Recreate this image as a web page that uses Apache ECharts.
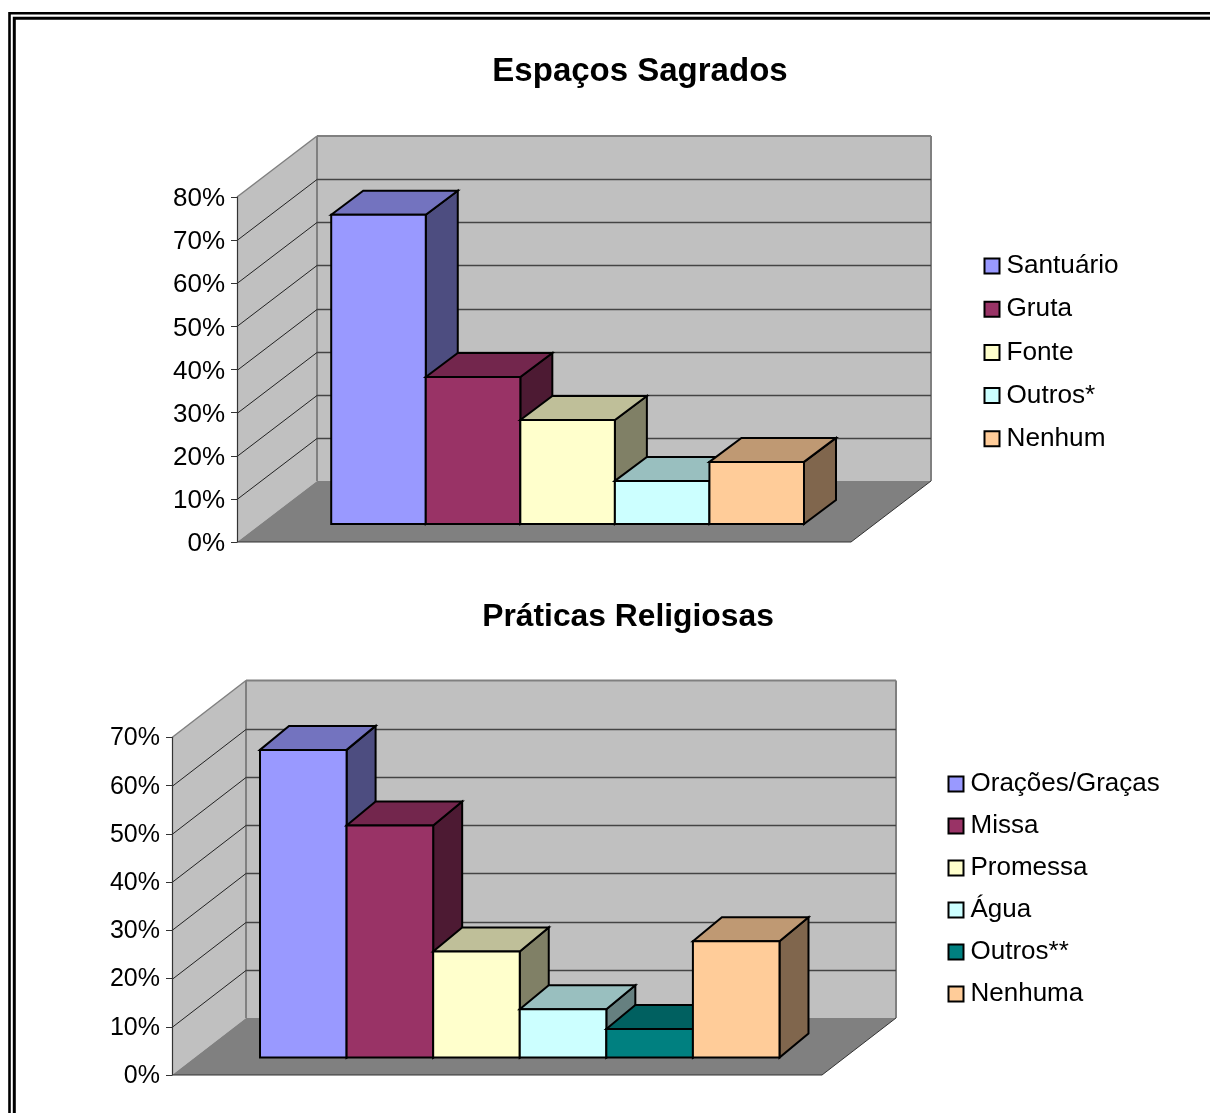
<!DOCTYPE html>
<html>
<head>
<meta charset="utf-8">
<title>Espaços Sagrados e Práticas Religiosas</title>
<style>html,body{margin:0;padding:0;background:#fff}#chart{width:1210px;height:1113px}</style>
<script src="https://cdn.jsdelivr.net/npm/echarts@6/dist/echarts.min.js"></script>
</head>
<body>
<div id="chart"></div>
<script>
// Percentages per answer, one bar each
const spacesTitle = 'Espaços Sagrados';
const spacesNames = ['Santuário', 'Gruta', 'Fonte', 'Outros*', 'Nenhum'];
const spacesValues = [71.7, 34.1, 24.1, 10, 14.4];
const spacesTicks = [0, 10, 20, 30, 40, 50, 60, 70, 80];

const practicesTitle = 'Práticas Religiosas';
const practicesNames = ['Orações/Graças', 'Missa', 'Promessa', 'Água', 'Outros**', 'Nenhuma'];
const practicesValues = [63.8, 48.1, 22, 10, 5.9, 24.1];
const practicesTicks = [0, 10, 20, 30, 40, 50, 60, 70];

// Palette: front face, top face, side face
const spacesFaces = [
  ['#9999FF', '#7373BF', '#4D4D80'],
  ['#993366', '#73264D', '#4D1A33'],
  ['#FFFFCC', '#BFBF99', '#808066'],
  ['#CCFFFF', '#99BFBF', '#668080'],
  ['#FFCC99', '#BF9973', '#80664D']
];
const practicesFaces = [
  ['#9999FF', '#7373BF', '#4D4D80'],
  ['#993366', '#73264D', '#4D1A33'],
  ['#FFFFCC', '#BFBF99', '#808066'],
  ['#CCFFFF', '#99BFBF', '#668080'],
  ['#008080', '#006060', '#004040'],
  ['#FFCC99', '#BF9973', '#80664D']
];

const FONT = '"Liberation Sans", Arial, sans-serif';
const grids = [], xAxes = [], yAxes = [], series = [], legends = [], titles = [];

const poly = (points, fill, stroke, lineWidth) => ({
  type: 'polygon',
  shape: { points },
  style: { fill, stroke: stroke || null, lineWidth: lineWidth || 0, lineJoin: 'miter' }
});
const line = (a, b, stroke, lineWidth) => ({
  type: 'line',
  shape: { x1: a[0], y1: a[1], x2: b[0], y2: b[1] },
  style: { stroke, lineWidth }
});

// One pseudo-3D column panel: room walls, gridlines, then the bars left to right
function addPanel(cfg) {
  const g = grids.length;
  grids.push({ left: cfg.left, top: cfg.top, width: cfg.width, height: cfg.height });
  xAxes.push({ type: 'category', gridIndex: g, data: [''], show: false });
  const maxTick = cfg.ticks[cfg.ticks.length - 1];
  yAxes.push({
    type: 'value', gridIndex: g, min: 0, max: maxTick, interval: 10, z: 4,
    splitLine: { show: false },
    axisLine: { show: true, lineStyle: { color: '#333', width: 1.2 } },
    axisTick: { show: true, length: 6, lineStyle: { color: '#333', width: 1 } },
    axisLabel: {
      formatter: '{t|{value}%}', margin: 12,
      rich: { t: { color: '#000', fontFamily: FONT, fontSize: cfg.axisFont, padding: [cfg.axisLabelDrop, 0, 0, 0] } }
    }
  });
  const [wx, wy] = cfg.roomDepth;

  series.push({
    type: 'custom', xAxisIndex: g, yAxisIndex: g, silent: true, z: 1,
    data: [[0, maxTick]],
    renderItem(params, api) {
      const c0 = api.coord([0, 0]), cTop = api.coord([0, api.value(1)]);
      const half = api.size([1, 0])[0] / 2;
      const L = c0[0] - half, R = c0[0] + half, B = c0[1], T = cTop[1];
      return {
        type: 'group',
        children: [
          poly([[L + wx, T + wy], [R + wx, T + wy], [R + wx, B + wy], [L + wx, B + wy]], '#C0C0C0'),
          poly([[L, T], [L + wx, T + wy], [L + wx, B + wy], [L, B]], '#C0C0C0'),
          poly([[L, B], [L + wx, B + wy], [R + wx, B + wy], [R, B]], '#808080'),
          line([L + wx, T + wy], [R + wx, T + wy], '#808080', 2),
          line([L, T], [L + wx, T + wy], '#808080', 1.5),
          line([L + wx, T + wy], [L + wx, B + wy], '#808080', 2),
          line([R + wx, T + wy], [R + wx, B + wy], '#808080', 2),
          line([L, B], [R, B], '#333', 1.2),
          line([R, B], [R + wx, B + wy], '#333', 1)
        ]
      };
    }
  });

  series.push({
    type: 'custom', xAxisIndex: g, yAxisIndex: g, silent: true, z: 1,
    data: cfg.ticks.filter(t => t > 0 && t < maxTick).map(t => [0, t]),
    renderItem(params, api) {
      const p = api.coord([0, api.value(1)]);
      const half = api.size([1, 0])[0] / 2;
      const L = p[0] - half, R = p[0] + half, y = Math.round(p[1]) + 0.5;
      return {
        type: 'group',
        children: [
          line([L, y], [L + wx, y + wy], '#222', 1),
          line([L + wx, y + wy], [R + wx, y + wy], '#444', 1.4)
        ]
      };
    }
  });

  cfg.names.forEach((name, i) => {
    const faces = cfg.faces[i];
    series.push({
      name, type: 'custom', xAxisIndex: g, yAxisIndex: g, silent: true, z: 2,
      itemStyle: { color: faces[0], borderColor: '#000', borderWidth: 2 },
      data: [[0, cfg.values[i]]],
      renderItem(params, api) {
        const c0 = api.coord([0, 0]), cv = api.coord([0, api.value(1)]);
        const band = api.size([1, 0])[0];
        const groupW = band * cfg.groupFraction;
        const w = groupW / cfg.names.length;
        const [sx, sy] = cfg.barShift, [dx, dy] = cfg.barDepth;
        const x0 = c0[0] - groupW / 2 + i * w + sx, x1 = x0 + w;
        const yB = c0[1] + sy, yT = cv[1] + sy;
        return {
          type: 'group',
          children: [
            poly([[x1, yT], [x1 + dx, yT + dy], [x1 + dx, yB + dy], [x1, yB]], faces[2], '#000', 2),
            poly([[x0, yT], [x0 + dx, yT + dy], [x1 + dx, yT + dy], [x1, yT]], faces[1], '#000', 2),
            poly([[x0, yT], [x1, yT], [x1, yB], [x0, yB]], faces[0], '#000', 2)
          ]
        };
      }
    });
  });

  legends.push({
    orient: 'vertical', left: cfg.legendLeft, top: cfg.legendTop,
    data: cfg.names, icon: 'rect', itemWidth: 15, itemHeight: 15, itemGap: cfg.legendGap,
    selectedMode: false, padding: 0,
    textStyle: { color: '#000', fontFamily: FONT, fontSize: cfg.legendFont, padding: [0, 0, 6, 2] },
    inactiveColor: '#ccc'
  });
  titles.push({
    text: cfg.title, left: cfg.titleX, top: cfg.titleY, textAlign: 'center', padding: 0,
    textStyle: { color: '#000', fontFamily: FONT, fontWeight: 'bold', fontSize: cfg.titleFont }
  });
}

addPanel({
  title: spacesTitle, names: spacesNames, values: spacesValues, ticks: spacesTicks, faces: spacesFaces,
  left: 237, top: 197, width: 614, height: 345,
  roomDepth: [80, -61], barShift: [23.6, -18], barDepth: [32, -24], groupFraction: 0.77,
  axisFont: 26, axisLabelDrop: 4, titleFont: 33, titleX: 640, titleY: 55.5,
  legendFont: 26.2, legendLeft: 983.5, legendTop: 253, legendGap: 17.2
});
addPanel({
  title: practicesTitle, names: practicesNames, values: practicesValues, ticks: practicesTicks, faces: practicesFaces,
  left: 172, top: 737.5, width: 650, height: 337.5,
  roomDepth: [74, -57], barShift: [22.75, -17.5], barDepth: [29, -24], groupFraction: 0.7992,
  axisFont: 25, axisLabelDrop: 2, titleFont: 31.8, titleX: 628, titleY: 601,
  legendFont: 26, legendLeft: 947.5, legendTop: 771, legendGap: 16
});

const chart = echarts.init(document.getElementById('chart'), null, { renderer: 'canvas' });
chart.setOption({
  animation: false,
  backgroundColor: '#fff',
  title: titles,
  grid: grids,
  xAxis: xAxes,
  yAxis: yAxes,
  legend: legends,
  series,
  // Double page frame running off the right and bottom edges
  graphic: [
    { type: 'rect', silent: true, shape: { x: 9.5, y: 13.3, width: 2400, height: 2400 }, style: { fill: null, stroke: '#000', lineWidth: 2.6 } },
    { type: 'rect', silent: true, shape: { x: 14.3, y: 18.3, width: 2400, height: 2400 }, style: { fill: null, stroke: '#000', lineWidth: 3 } }
  ]
});
</script>
</body>
</html>
